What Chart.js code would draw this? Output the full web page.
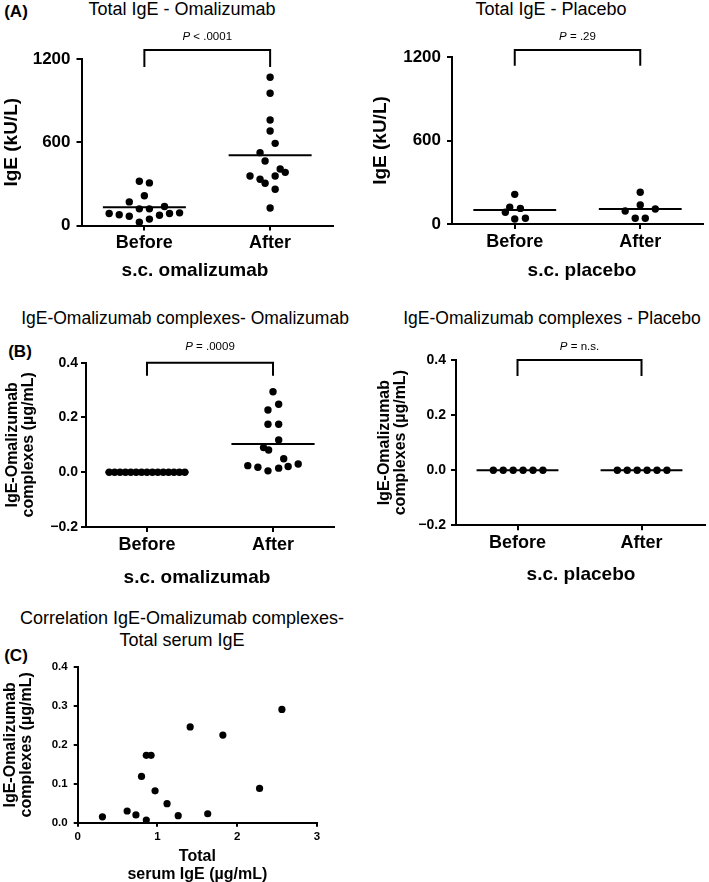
<!DOCTYPE html>
<html>
<head>
<meta charset="utf-8">
<script src="https://cdn.jsdelivr.net/npm/chart.js@4.4.0/dist/chart.umd.min.js"></script>
<style>
  body { margin: 0; width: 709px; height: 882px; overflow: hidden; background: #fff; position: relative;
         font-family: 'Liberation Sans', Arial, sans-serif; color: #000; }
  canvas { position: absolute; }
  .lbl { position: absolute; transform: translate(-50%, -50%); white-space: nowrap; line-height: 1.15; }
  .ttl { font-size: 18px; }
  .ttl-b { font-size: 17.5px; }
  .panel { font-size: 17px; font-weight: bold; }
  .xt { font-size: 19px; font-weight: bold; }
</style>
</head>
<body>
<div class="lbl panel" style="left:16px;top:12px">(A)</div>
<div class="lbl ttl" style="left:182px;top:9px">Total IgE - Omalizumab</div>
<div class="lbl ttl" style="left:551px;top:9px">Total IgE - Placebo</div>
<div class="lbl ttl-b" style="left:185px;top:318px">IgE-Omalizumab complexes- Omalizumab</div>
<div class="lbl panel" style="left:20px;top:352px">(B)</div>
<div class="lbl ttl-b" style="left:552px;top:318px">IgE-Omalizumab complexes - Placebo</div>
<div class="lbl ttl" style="left:182px;top:618px">Correlation IgE-Omalizumab complexes-</div>
<div class="lbl ttl" style="left:182px;top:640px">Total serum IgE</div>
<div class="lbl panel" style="left:16px;top:656px">(C)</div>

<canvas id="igeOma" width="364" height="281" style="left:0;top:0"></canvas>
<canvas id="igePla" width="345" height="281" style="left:364px;top:0"></canvas>
<canvas id="cxOma" width="370" height="288" style="left:0;top:300px"></canvas>
<canvas id="cxPla" width="339" height="285" style="left:370px;top:300px"></canvas>
<canvas id="corr" width="340" height="234" style="left:0;top:650px"></canvas>

<!-- x axis titles of the dot plots -->
<div class="lbl xt" style="left:195px;top:270px">s.c. omalizumab</div>
<div class="lbl xt" style="left:582px;top:270px">s.c. placebo</div>
<div class="lbl xt" style="left:197px;top:577px">s.c. omalizumab</div>
<div class="lbl xt" style="left:581px;top:574px">s.c. placebo</div>

<script>
const groups = ['Before', 'After'];

// (A) total IgE, kU/L
const igeTicks = [0, 600, 1200];
const igeOmaBefore = [319, 307, 214, 170, 137, 120, 120, 91, 86, 86, 77, 74, 67, 46, 24];
const igeOmaBeforeJitter = [-0.04, 0.04, 0, -0.12, 0.16, -0.04, 0.04, 0.28, -0.28, 0.2, -0.2, 0.12, -0.12, 0.04, -0.04];
const igeOmaAfter = [1068, 953, 760, 681, 592, 525, 465, 407, 383, 357, 357, 333, 304, 261, 126];
const igeOmaAfterJitter = [0, 0, 0, 0, 0.04, -0.08, -0.04, 0.08, 0.12, -0.16, 0.04, -0.08, -0.04, 0.04, 0];
const igeOmaMeans = [131, 506];

const igePlaBefore = [213, 120, 112, 84, 41, 36];
const igePlaBeforeJitter = [0, -0.04, 0.045, -0.075, 0.085, 0];
const igePlaAfter = [228, 137, 108, 93, 41, 41];
const igePlaAfterJitter = [0, 0, 0.12, -0.12, -0.04, 0.04];
const igePlaMeans = [100, 108];

// (B) IgE-omalizumab complexes, ug/mL
const cxTicks = [-0.2, 0, 0.2, 0.4];
const cxOmaBefore = [0, 0, 0, 0, 0, 0, 0, 0, 0, 0, 0, 0, 0, 0, 0];
const cxOmaBeforeJitter = [-0.3, -0.257, -0.214, -0.171, -0.129, -0.086, -0.043, 0, 0.043, 0.086, 0.129, 0.171, 0.214, 0.257, 0.3];
const cxOmaAfter = [0.294, 0.248, 0.227, 0.175, 0.175, 0.118, 0.090, 0.081, 0.049, 0.030, 0.024, 0.021, 0.018, 0.015, 0.005];
const cxOmaAfterJitter = [0, 0.045, -0.04, -0.04, 0.045, 0.045, -0.075, -0.035, 0.085, 0.2, -0.2, 0.12, -0.12, 0.045, -0.04];
const cxOmaMeans = [0, 0.103];

const cxPlaBefore = [0, 0, 0, 0, 0, 0];
const cxPlaAfter = [0, 0, 0, 0, 0, 0];
const cxPlaJitter = [-0.195, -0.115, -0.035, 0.045, 0.125, 0.205];
const cxPlaMeans = [0, 0];

// (C) correlation
const corrXTicks = [0, 1, 2, 3];
const corrYTicks = [0, 0.1, 0.2, 0.3, 0.4];
const corrIgE = [0.31, 0.62, 0.73, 0.86, 0.80, 0.86, 0.92, 0.97, 1.12, 1.26, 1.41, 1.63, 1.82, 2.28, 2.56];
const corrComplexes = [0.015, 0.030, 0.020, 0.007, 0.119, 0.173, 0.173, 0.082, 0.049, 0.018, 0.246, 0.023, 0.225, 0.088, 0.291];

const fam = "'Liberation Sans', Arial, sans-serif";
Chart.defaults.font.family = fam;
Chart.defaults.color = '#000';

// bracket with P value above the two groups
const bracketPlugin = {
  id: 'bracket',
  afterDraw(chart, args, opts) {
    if (!opts.label) return;
    const {ctx, scales: {x, y}} = chart;
    const x1 = x.getPixelForValue(1), x2 = x.getPixelForValue(2);
    const yt = y.getPixelForValue(opts.top), yl = y.getPixelForValue(opts.low);
    ctx.save();
    ctx.strokeStyle = '#000';
    ctx.lineWidth = 2;
    ctx.beginPath();
    ctx.moveTo(x1, yl); ctx.lineTo(x1, yt); ctx.lineTo(x2, yt); ctx.lineTo(x2, yl);
    ctx.stroke();

    const size = 11.5;
    ctx.font = `italic ${size}px ${fam}`;
    const wP = ctx.measureText('P').width;
    ctx.font = `${size}px ${fam}`;
    const wRest = ctx.measureText(opts.label).width;
    const tx = (x1 + x2) / 2 - (wP + wRest) / 2;
    const ty = yt - opts.gap;
    ctx.fillStyle = '#000';
    ctx.textBaseline = 'middle';
    ctx.textAlign = 'left';
    ctx.font = `italic ${size}px ${fam}`;
    ctx.fillText('P', tx, ty);
    ctx.font = `${size}px ${fam}`;
    ctx.fillText(opts.label, tx + wP, ty);
    ctx.restore();
  }
};

const axisGrid = { drawOnChartArea: false, color: '#000', lineWidth: 2, tickLength: 5 };
const axisBorder = { color: '#000', width: 2 };

function dotPlot(id, d) {
  const pts = (vals, jit, g) => vals.map((v, i) => ({ x: g + jit[i], y: v }));
  const meanLine = (m, g) => [{ x: g - 0.33, y: m }, { x: g + 0.33, y: m }];
  const dots = { pointRadius: d.r, pointBackgroundColor: '#000', pointBorderWidth: 0, showLine: false, order: 2 };
  const line = { type: 'line', showLine: true, borderColor: '#000', borderWidth: 2, pointRadius: 0, fill: false, order: 1 };

  new Chart(document.getElementById(id), {
    type: 'scatter',
    data: {
      datasets: [
        { data: pts(d.before, d.beforeJitter, 1), ...dots },
        { data: pts(d.after, d.afterJitter, 2), ...dots },
        { data: meanLine(d.means[0], 1), ...line },
        { data: meanLine(d.means[1], 2), ...line }
      ]
    },
    options: {
      responsive: false,
      animation: false,
      events: [],
      layout: { padding: { top: d.padTop, right: d.padRight, left: 0, bottom: 0 } },
      plugins: {
        legend: { display: false },
        tooltip: { enabled: false },
        bracket: d.bracket
      },
      scales: {
        x: {
          type: 'linear',
          min: d.xMin,
          max: d.xMax,
          afterBuildTicks: s => { s.ticks = groups.map((g, i) => ({ value: i + 1 })); },
          afterFit: s => { s.height = d.xHeight; },
          ticks: {
            callback: v => groups[Math.round(v) - 1],
            font: { size: 18, weight: 'bold' },
            padding: 2,
            maxRotation: 0,
            autoSkip: false
          },
          grid: axisGrid,
          border: axisBorder
        },
        y: {
          min: d.yTicks[0],
          max: d.yTicks[d.yTicks.length - 1],
          afterBuildTicks: s => { s.ticks = d.yTicks.map(v => ({ value: v })); },
          afterFit: s => { s.width = d.yWidth; },
          ticks: { callback: d.yFormat, font: { size: d.yTickSize, weight: 'bold' }, padding: d.yTickPad },
          grid: axisGrid,
          border: axisBorder,
          title: {
            display: true,
            text: d.yTitle,
            font: d.yTitleFont,
            padding: { top: d.yTitlePad, bottom: 0 }
          }
        }
      }
    },
    plugins: [bracketPlugin]
  });
}

const fmtInt = v => String(v);
const fmtDec = v => v.toFixed(1).replace('-', '\u2212');
const cxTitle = ['IgE-Omalizumab', 'complexes (\u00b5g/mL)'];
const cxTitleFont = { size: 16, weight: 'bold', lineHeight: 1.0 };

dotPlot('igeOma', {
  before: igeOmaBefore, beforeJitter: igeOmaBeforeJitter,
  after: igeOmaAfter, afterJitter: igeOmaAfterJitter, means: igeOmaMeans,
  yTicks: igeTicks, yFormat: fmtInt, yTickSize: 17, yTickPad: 6,
  yTitle: 'IgE (kU/L)', yTitleFont: { size: 19, weight: 'bold' }, yTitlePad: 0,
  xMin: 0.5, xMax: 2.5,
  padTop: 59, padRight: 31, yWidth: 81.5, xHeight: 55.5, r: 3.7,
  bracket: { top: 1265, low: 1142, label: ' < .0001', gap: 13 }
});

dotPlot('igePla', {
  before: igePlaBefore, beforeJitter: igePlaBeforeJitter,
  after: igePlaAfter, afterJitter: igePlaAfterJitter, means: igePlaMeans,
  yTicks: igeTicks, yFormat: fmtInt, yTickSize: 17, yTickPad: 6,
  yTitle: 'IgE (kU/L)', yTitleFont: { size: 19, weight: 'bold' }, yTitlePad: 5.6,
  xMin: 0.5, xMax: 2.5,
  padTop: 57, padRight: 6, yWidth: 88, xHeight: 57, r: 3.7,
  bracket: { top: 1250, low: 1137, label: ' = .29', gap: 13 }
});

dotPlot('cxOma', {
  before: cxOmaBefore, beforeJitter: cxOmaBeforeJitter,
  after: cxOmaAfter, afterJitter: cxOmaAfterJitter, means: cxOmaMeans,
  yTicks: cxTicks, yFormat: fmtDec, yTickSize: 14, yTickPad: 3,
  yTitle: cxTitle, yTitleFont: cxTitleFont, yTitlePad: 4.5,
  xMin: 0.516, xMax: 2.484,
  padTop: 62.7, padRight: 36, yWidth: 86, xHeight: 61, r: 3.7,
  bracket: { top: 0.4, low: 0.352, label: ' = .0009', gap: 15.7 }
});

dotPlot('cxPla', {
  before: cxPlaBefore, beforeJitter: cxPlaJitter,
  after: cxPlaAfter, afterJitter: cxPlaJitter, means: cxPlaMeans,
  yTicks: cxTicks, yFormat: fmtDec, yTickSize: 14, yTickPad: 5,
  yTitle: cxTitle, yTitleFont: cxTitleFont, yTitlePad: 7,
  xMin: 0.504, xMax: 2.512,
  padTop: 60, padRight: 2, yWidth: 86, xHeight: 59.7, r: 3.7,
  bracket: { top: 0.4, low: 0.342, label: ' = n.s.', gap: 13 }
});

// (C) scatter
new Chart(document.getElementById('corr'), {
  type: 'scatter',
  data: {
    datasets: [{
      data: corrIgE.map((v, i) => ({ x: v, y: corrComplexes[i] })),
      pointRadius: 3.6,
      pointBackgroundColor: '#000',
      pointBorderWidth: 0
    }]
  },
  options: {
    responsive: false,
    animation: false,
    events: [],
    layout: { padding: { top: 17, right: 23, left: 0, bottom: 0 } },
    plugins: { legend: { display: false }, tooltip: { enabled: false } },
    scales: {
      x: {
        min: corrXTicks[0],
        max: corrXTicks[corrXTicks.length - 1],
        afterBuildTicks: s => { s.ticks = corrXTicks.map(v => ({ value: v })); },
        afterFit: s => { s.height = 61.3; },
        ticks: { font: { size: 11.5, weight: 'bold' }, padding: 3.5, maxRotation: 0 },
        grid: { ...axisGrid, tickLength: 4 },
        border: axisBorder,
        title: {
          display: true,
          text: ['Total', 'serum IgE (\u00b5g/mL)'],
          font: { size: 16, weight: 'bold', lineHeight: 1.125 },
          padding: 0
        }
      },
      y: {
        min: corrYTicks[0],
        max: corrYTicks[corrYTicks.length - 1],
        afterBuildTicks: s => { s.ticks = corrYTicks.map(v => ({ value: v })); },
        afterFit: s => { s.width = 77.7; },
        ticks: { callback: fmtDec, font: { size: 11.5, weight: 'bold' }, padding: 6 },
        grid: { ...axisGrid, tickLength: 4 },
        border: axisBorder,
        title: {
          display: true,
          text: cxTitle,
          font: cxTitleFont,
          padding: { top: 2.8, bottom: 0 }
        }
      }
    }
  }
});
</script>
</body>
</html>
